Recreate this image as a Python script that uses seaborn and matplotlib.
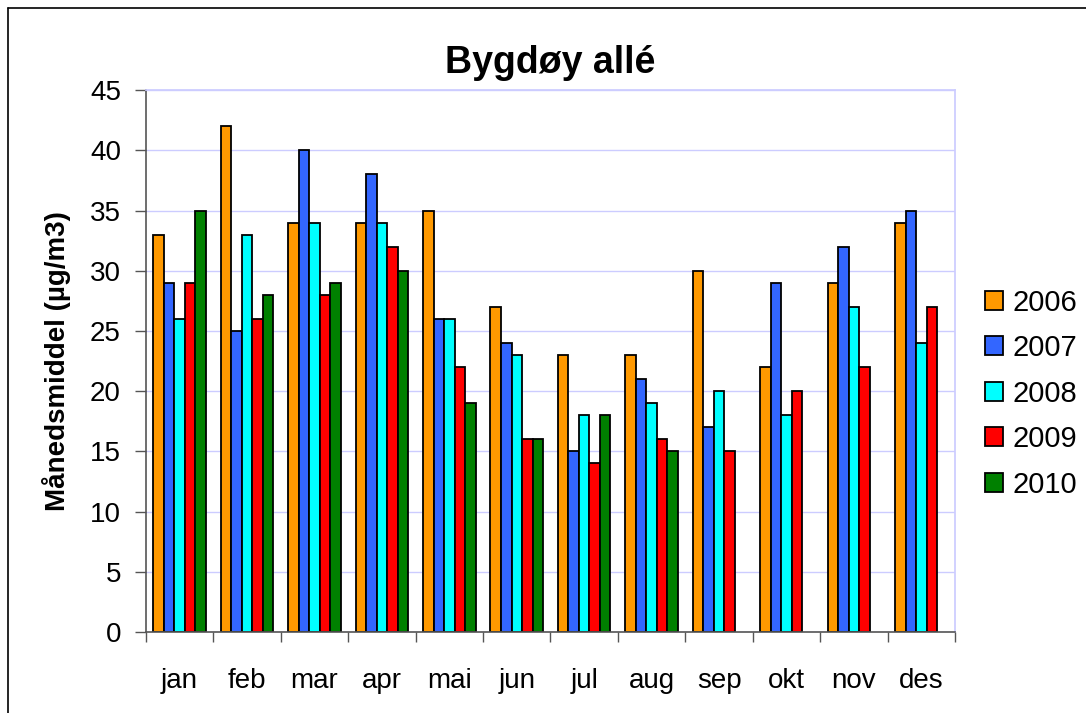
import numpy as np
import pandas as pd
import matplotlib.pyplot as plt
import seaborn as sns
from matplotlib.lines import Line2D

months = ['jan', 'feb', 'mar', 'apr', 'mai', 'jun', 'jul', 'aug', 'sep', 'okt', 'nov', 'des']
years = ['2006', '2007', '2008', '2009', '2010']
v2006 = [33, 42, 34, 34, 35, 27, 23, 23, 30, 22, 29, 34]
v2007 = [29, 25, 40, 38, 26, 24, 15, 21, 17, 29, 32, 35]
v2008 = [26, 33, 34, 34, 26, 23, 18, 19, 20, 18, 27, 24]
v2009 = [29, 26, 28, 32, 22, 16, 14, 16, 15, 20, 22, 27]
v2010 = [35, 28, 29, 30, 19, 16, 18, 15, np.nan, np.nan, np.nan, np.nan]
colors = ['#FF9900', '#3366FF', '#00FFFF', '#FF0000', '#008000']

# lang format for seaborn
rows = []
for yr, vals in zip(years, [v2006, v2007, v2008, v2009, v2010]):
    for m, v in zip(months, vals):
        rows.append({'month': m, 'year': yr, 'value': v})
df = pd.DataFrame(rows)

sns.set_theme(style='white')
plt.rcParams['font.family'] = ['Liberation Sans', 'DejaVu Sans']
plt.rcParams['text.color'] = 'black'
plt.rcParams['xtick.color'] = 'black'
plt.rcParams['ytick.color'] = 'black'
plt.rcParams['axes.labelcolor'] = 'black'

fig = plt.figure(figsize=(10.86, 7.13), dpi=100)
ax = fig.add_axes([0.1344, 0.1136, 0.745, 0.76])

sns.barplot(data=df, x='month', y='value', hue='year', order=months, hue_order=years,
            palette=colors, edgecolor='black', linewidth=1.3, width=0.78, ax=ax,
            saturation=1, dodge=True)

ax.set_ylim(0, 45)
ax.set_xlim(-0.5, 11.5)
ax.set_yticks(range(0, 46, 5))
ax.yaxis.grid(True, color='#CCCCFF', linewidth=1)
ax.set_axisbelow(True)
ax.tick_params(axis='y', labelsize=20, length=8, width=1, color='#555555', left=True, pad=10)
ax.tick_params(axis='x', which='major', labelsize=20, length=0, pad=26)
ax.set_xticks(np.arange(-0.5, 12, 1), minor=True)
ax.tick_params(axis='x', which='minor', length=7, width=1, color='#555555', bottom=True)
for side in ['left', 'bottom']:
    ax.spines[side].set_color('#555555')
    ax.spines[side].set_linewidth(1.2)
for side in ['top', 'right']:
    ax.spines[side].set_color('#CCCCFF')

ax.set_xlabel('')
ax.set_ylabel('Månedsmiddel (µg/m3)', fontsize=20, fontweight='bold', labelpad=14)
ax.set_title('Bygdøy allé', fontsize=27, fontweight='bold', pad=12)

leg = ax.legend(loc='center left', bbox_to_anchor=(1.004, 0.44), frameon=False,
                fontsize=21, handlelength=0.62, handleheight=0.62, handletextpad=0.35,
                labelspacing=0.6)
for h in leg.legend_handles:
    h.set_edgecolor('black')
    h.set_linewidth(1.3)

# figure frame
fig.add_artist(Line2D([8 / 1086, 8 / 1086], [0, 1 - 8 / 713], color='black', lw=1.2))
fig.add_artist(Line2D([8 / 1086, 1], [1 - 8 / 713, 1 - 8 / 713], color='black', lw=1.2))

fig.savefig('out.png', dpi=100)
